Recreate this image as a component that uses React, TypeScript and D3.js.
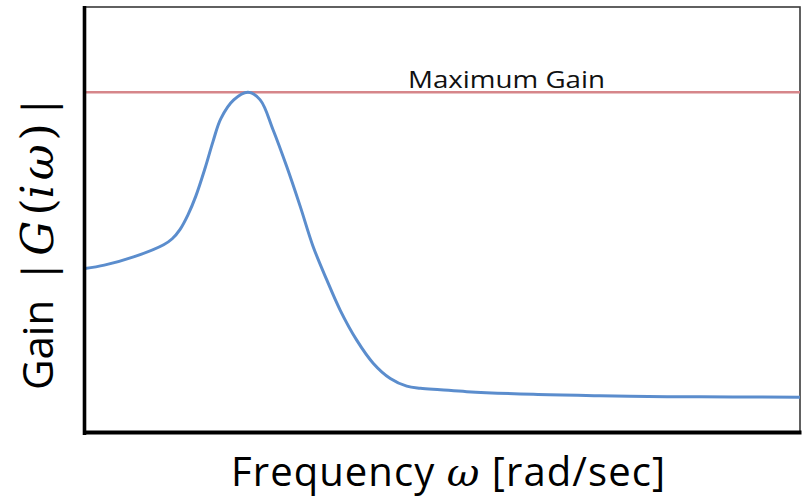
import { useRef, useEffect } from "react";
import * as d3 from "d3";

// frequency (arbitrary units) and gain
const freq = [
  0, 0.27, 0.69, 1.1, 1.22, 1.33, 1.44, 1.55, 1.68, 1.79, 1.9, 2.08, 2.28, 2.45,
  2.63, 2.82, 3.01, 3.19, 3.38, 3.57, 3.8, 4.03, 4.27, 4.5, 4.69, 4.97, 5.34,
  6.27, 7.2, 8.14, 9.06, 10,
];
const gain = [
  1.93, 1.97, 2.07, 2.21, 2.28, 2.39, 2.56, 2.78, 3.11, 3.42, 3.69, 3.91, 4.0,
  3.91, 3.56, 3.13, 2.66, 2.19, 1.8, 1.44, 1.09, 0.82, 0.64, 0.55, 0.525,
  0.508, 0.485, 0.454, 0.438, 0.426, 0.423, 0.419,
];
const maxGain = 4;
const maxLabel = "Maximum Gain";
const xLabel = "Frequency";
const yLabel = "Gain";

const W = 802;
const H = 498;

export default function App() {
  const svgRef = useRef<SVGSVGElement>(null);

  useEffect(() => {
    const svg = d3.select(svgRef.current);
    svg.selectAll("*").remove();

    const x = d3.scaleLinear().domain([0, 10]).range([85, 800]);
    const y = d3.scaleLinear().domain([0, 5]).range([433, 7]);

    // frame: thin top/right, heavy left/bottom
    svg
      .append("rect")
      .attr("x", 85)
      .attr("y", 7)
      .attr("width", 715)
      .attr("height", 425)
      .attr("fill", "none")
      .attr("stroke", "#3a3a3a")
      .attr("stroke-width", 1.6);

    // max gain line
    svg
      .append("line")
      .attr("x1", 86)
      .attr("x2", 800)
      .attr("y1", y(maxGain))
      .attr("y2", y(maxGain))
      .attr("stroke", "#d6868a")
      .attr("stroke-width", 2.6);

    svg
      .append("text")
      .attr("x", 408)
      .attr("y", y(maxGain) - 4.5)
      .attr("font-family", "'Open Sans', sans-serif")
      .attr("font-size", 24)
      .attr("fill", "#111")
      .attr("textLength", 197)
      .attr("lengthAdjust", "spacingAndGlyphs")
      .text(maxLabel);

    const line = d3
      .line<number>()
      .x((_, i) => x(freq[i]))
      .y((d) => y(d))
      .curve(d3.curveCatmullRom.alpha(0.5));

    svg
      .append("path")
      .datum(gain)
      .attr("d", line)
      .attr("fill", "none")
      .attr("stroke", "#5b8dcd")
      .attr("stroke-width", 3);

    svg
      .append("line")
      .attr("x1", 84.5)
      .attr("x2", 84.5)
      .attr("y1", 6)
      .attr("y2", 435)
      .attr("stroke", "#000")
      .attr("stroke-width", 3.6);
    svg
      .append("line")
      .attr("x1", 83)
      .attr("x2", 801.5)
      .attr("y1", 432.5)
      .attr("y2", 432.5)
      .attr("stroke", "#000")
      .attr("stroke-width", 4);

    // x axis title
    const xt = svg
      .append("text")
      .attr("x", 231)
      .attr("y", 486)
      .attr("font-family", "'Open Sans', sans-serif")
      .attr("font-size", 40)
      .attr("fill", "#000")
      .attr("textLength", 434)
      .attr("lengthAdjust", "spacing");
    xt.append("tspan").text(xLabel + " ");
    xt.append("tspan")
      .attr("font-family", "'DejaVu Serif', serif")
      .attr("font-style", "italic")
      .text("ω");
    xt.append("tspan").text(" [rad/sec]");

    // y axis title
    const serif = "'DejaVu Serif', serif";
    const yt = svg
      .append("text")
      .attr("transform", "translate(53,390) rotate(-90)")
      .attr("font-family", "'Open Sans', sans-serif")
      .attr("font-size", 42)
      .attr("fill", "#000");
    yt.append("tspan").text(yLabel + " ");
    yt.append("tspan").attr("dx", 6).text("|");
    yt.append("tspan")
      .attr("font-family", serif)
      .attr("font-style", "italic")
      .attr("font-size", 44)
      .attr("dx", 4)
      .text("G");
    yt.append("tspan")
      .attr("font-family", serif)
      .attr("font-size", 44)
      .attr("dx", 5)
      .text("(");
    yt.append("tspan")
      .attr("font-family", serif)
      .attr("font-style", "italic")
      .attr("font-size", 44)
      .attr("letter-spacing", 4)
      .text("iω");
    yt.append("tspan").attr("font-family", serif).attr("font-size", 44).text(")");
    yt.append("tspan").attr("dx", 5).text("|");
  }, []);

  return (
    <svg
      ref={svgRef}
      width={W}
      height={H}
      style={{ position: "absolute", left: 0, top: 0, background: "#fff" }}
    />
  );
}
